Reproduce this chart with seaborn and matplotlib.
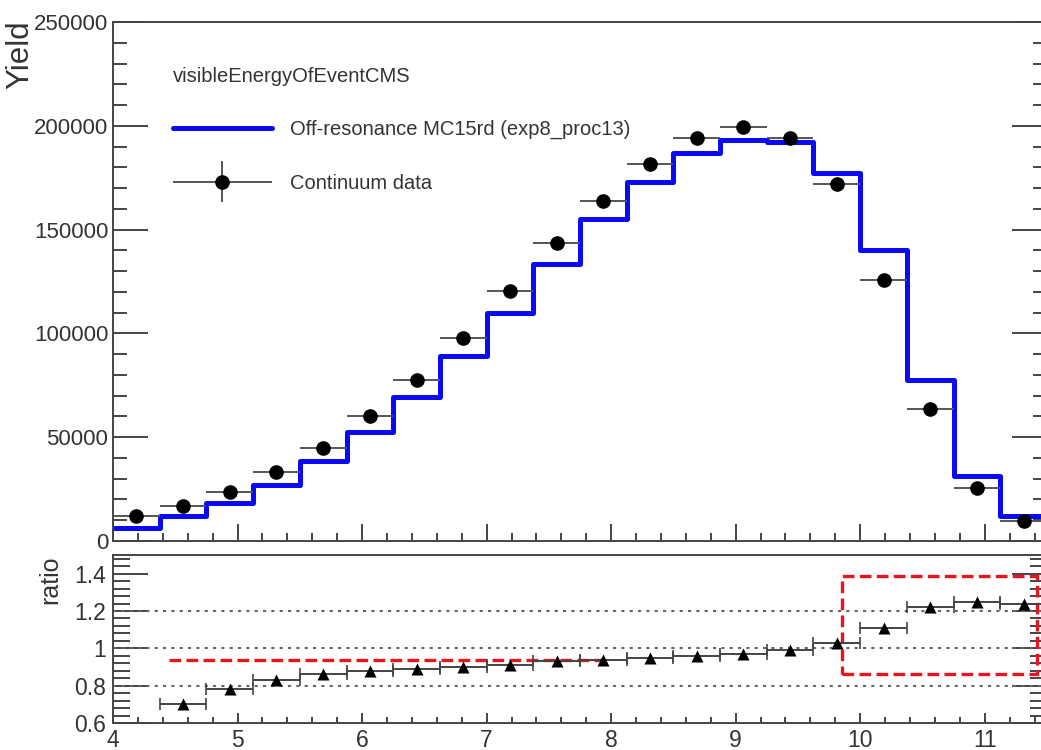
import numpy as np
import pandas as pd
import matplotlib
matplotlib.use("Agg")
import matplotlib.pyplot as plt
from matplotlib.lines import Line2D
from matplotlib.patches import Rectangle
from matplotlib.ticker import MultipleLocator, FixedLocator
from matplotlib.legend_handler import HandlerErrorbar
from matplotlib.container import ErrorbarContainer
import seaborn as sns

# ---------------- data ----------------
bin_start = 4.0
bin_width = 0.375
mc_yield = [6300, 12000, 18300, 27000, 38500, 52500, 69400, 89200, 109900, 133500,
            155200, 173000, 187000, 193300, 192300, 177400, 140200, 77600, 31300, 12000]
data_yield = [12000, 16900, 23600, 33200, 44800, 60200, 77600, 97800, 120500, 143600,
              163900, 181700, 194200, 199500, 194200, 172000, 125800, 63600, 25500, 9600]
ratio = [np.nan, 0.70, 0.78, 0.83, 0.86, 0.88, 0.89, 0.90, 0.91, 0.93,
         0.94, 0.95, 0.96, 0.97, 0.99, 1.03, 1.11, 1.22, 1.25, 1.24]
ref_lines = [0.8, 1.0, 1.2]
red_line_y = 0.94
red_line_x = [4.45, 8.0]
red_box = [9.85, 11.42, 0.86, 1.385]  # x0, x1, y0, y1
x_ticks = [4, 5, 6, 7, 8, 9, 10, 11]
y_ticks = [0, 50000, 100000, 150000, 200000, 250000]
r_ticks = [0.6, 0.8, 1.0, 1.2, 1.4]
r_ticklabels = ["0.6", "0.8", "1", "1.2", "1.4"]
legend_title = "visibleEnergyOfEventCMS"
mc_label = "Off-resonance MC15rd (exp8_proc13)"
data_label = "Continuum data"

n = len(mc_yield)
centers = bin_start + bin_width * (np.arange(n) + 0.5)
edges = [float(e) for e in bin_start + bin_width * np.arange(n + 1)]
df = pd.DataFrame({"x": centers, "mc": mc_yield, "data": data_yield, "ratio": ratio})

# ---------------- style ----------------
sns.set_style("white")
plt.rcParams["font.family"] = ["Liberation Sans", "DejaVu Sans"]
TXT = "#333333"
AX = "#444444"

fig = plt.figure(figsize=(10.41, 7.5), dpi=100)
W, H = 1041.0, 750.0
left_px, right_px = 113, 1047
ax = fig.add_axes([left_px / W, (H - 541) / H, (right_px - left_px) / W, 519 / H])
axr = fig.add_axes([left_px / W, (H - 723) / H, (right_px - left_px) / W, 168 / H])

# ---------------- top panel ----------------
sns.histplot(data=df, x="x", weights="mc", bins=edges, element="step", fill=False,
             color="#0a0af5", linewidth=3.6, ax=ax)
eb = ax.errorbar(df["x"], df["data"], xerr=bin_width / 2, yerr=0, fmt="o",
                 color="black", ms=9.5, ecolor="#555555", elinewidth=1.4, zorder=5)

ax.set_xlim(edges[0], edges[-1])
ax.set_ylim(0, 250000)
ax.xaxis.set_major_locator(FixedLocator(x_ticks))
ax.xaxis.set_minor_locator(MultipleLocator(0.2))
ax.yaxis.set_major_locator(FixedLocator(y_ticks))
ax.yaxis.set_minor_locator(MultipleLocator(10000))
ax.set_yticklabels([str(v) for v in y_ticks])
ax.tick_params(axis="x", which="major", direction="in", length=12, width=1.4,
               color=AX, bottom=True, labelbottom=False, top=False)
ax.tick_params(axis="x", which="minor", direction="in", length=6, width=1.4,
               color=AX, bottom=True, top=False)
ax.tick_params(axis="y", which="major", direction="in", length=25, width=1.4,
               color=AX, left=True, right=True, labelsize=16, labelcolor=TXT, pad=3.5)
ax.tick_params(axis="y", which="minor", direction="in", length=10, width=1.4,
               color=AX, left=True, right=True)
ax.set_xlabel("")
ax.set_ylabel("Yield", fontsize=22.5, color=TXT, loc="top")
ax.yaxis.set_label_coords(-0.0835, 1.004)
for s in ax.spines.values():
    s.set_color(AX)
    s.set_linewidth(1.4)

handles = [Line2D([], [], color="#0a0af5", lw=3.6), eb]
leg = ax.legend(handles, [mc_label, data_label], title=legend_title,
                loc="upper left", bbox_to_anchor=(0.0557, 0.929), borderaxespad=0,
                frameon=False, fontsize=14.5, title_fontsize=14.5,
                handlelength=4.9, handletextpad=0.9, labelspacing=1.7,
                alignment="left",
                handler_map={ErrorbarContainer: HandlerErrorbar(xerr_size=2.45, yerr_size=1.0)})
for t in leg.get_texts():
    t.set_color(TXT)
leg.get_title().set_color(TXT)

# ---------------- ratio panel ----------------
for yv in ref_lines:
    axr.axhline(yv, color="#666666", lw=1.5, ls=(0, (1.5, 2.5)), zorder=1)
axr.errorbar(df["x"], df["ratio"], xerr=bin_width / 2, fmt="none",
             ecolor="#444444", elinewidth=1.4, capsize=4, capthick=1.2, zorder=3)
sns.scatterplot(data=df, x="x", y="ratio", marker="^", color="black", s=75,
                edgecolor="black", linewidth=0, ax=axr, zorder=4)
axr.hlines(red_line_y, red_line_x[0], red_line_x[1], colors="#e8141e", lw=2.4,
           linestyles=(0, (3.5, 1.6)), zorder=2)
axr.add_patch(Rectangle((red_box[0], red_box[2]), red_box[1] - red_box[0],
                        red_box[3] - red_box[2], fill=False, edgecolor="#e8141e",
                        lw=2.4, ls=(0, (3.5, 1.6)), zorder=2))

axr.set_xlim(edges[0], edges[-1])
axr.set_ylim(0.6, 1.5)
axr.xaxis.set_major_locator(FixedLocator(x_ticks))
axr.xaxis.set_minor_locator(MultipleLocator(0.2))
axr.yaxis.set_major_locator(FixedLocator(r_ticks))
axr.yaxis.set_minor_locator(MultipleLocator(0.04))
axr.set_yticklabels(r_ticklabels)
axr.set_xticklabels([str(v) for v in x_ticks])
axr.tick_params(axis="x", which="major", direction="in", length=7, width=1.4,
                color=AX, bottom=True, labelsize=16.5, labelcolor=TXT, pad=4)
axr.tick_params(axis="x", which="minor", direction="in", length=4, width=1.4,
                color=AX, bottom=True)
axr.tick_params(axis="y", which="major", direction="in", length=25, width=1.4,
                color=AX, left=True, right=True, labelsize=16.5, labelcolor=TXT, pad=5)
axr.tick_params(axis="y", which="minor", direction="in", length=12, width=1.4,
                color=AX, left=True, right=True)
axr.set_xlabel("")
axr.set_ylabel("ratio", fontsize=18, color=TXT, loc="top")
axr.yaxis.set_label_coords(-0.0546, 1.0)
for s in axr.spines.values():
    s.set_color(AX)
    s.set_linewidth(1.4)

fig.savefig("out.png", dpi=100)
